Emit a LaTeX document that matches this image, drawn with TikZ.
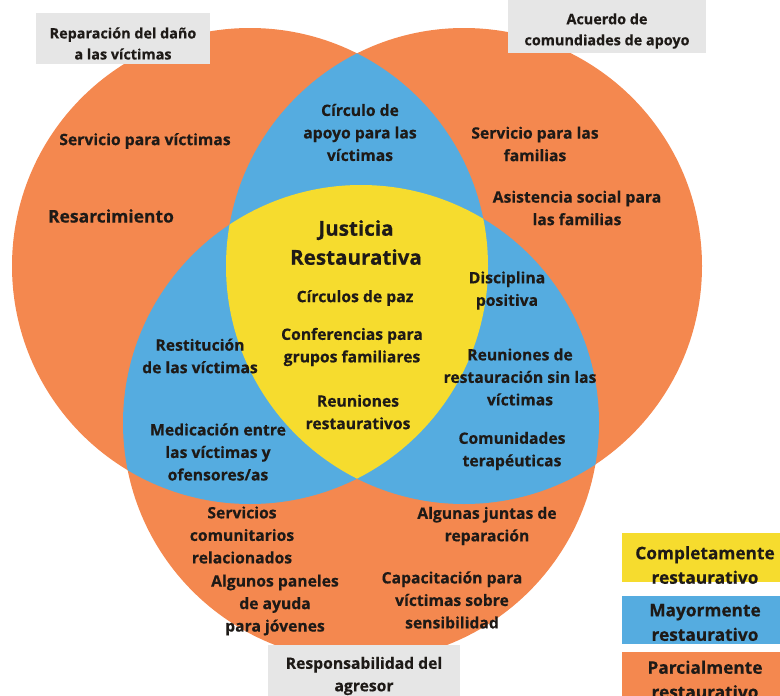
\documentclass[tikz,border=0pt]{standalone}
\usepackage{fontspec}
\setmainfont{Open Sans}[BoldFeatures={FakeBold=0.4}]
\definecolor{orng}{HTML}{F4884F}
\definecolor{blu}{HTML}{55ACE0}
\definecolor{yel}{HTML}{F6DC2E}
\definecolor{gry}{HTML}{E6E6E6}
\definecolor{ink}{HTML}{1E1A17}
\begin{document}
\begin{tikzpicture}[x=1pt,y=-1pt,
  lbl/.style={align=center, font=\fontsize{15.7}{22.5}\selectfont\bfseries, text=ink, inner sep=0pt},
  big/.style={align=center, font=\fontsize{20.6}{29}\selectfont\bfseries, text=ink, inner sep=0pt},
  boxlbl/.style={align=center, font=\fontsize{14.4}{21}\selectfont\bfseries, text=ink, inner sep=0pt},
  leglbl/.style={align=center, font=\fontsize{17.3}{24.5}\selectfont\bfseries, text=ink, inner sep=0pt},
  rr/.style={radius=238pt}]
\useasboundingbox (0,0) rectangle (780,696);
\coordinate (cL) at (250,266);
\coordinate (cR) at (464,266);
\coordinate (cB) at (361,423);
% orange circles
\fill[orng] (cL) circle[rr];
\fill[orng] (cR) circle[rr];
\fill[orng] (cB) circle[rr];
% blue pairwise intersections
\begin{scope}\clip (cL) circle[rr]; \fill[blu] (cR) circle[rr]; \end{scope}
\begin{scope}\clip (cL) circle[rr]; \fill[blu] (cB) circle[rr]; \end{scope}
\begin{scope}\clip (cR) circle[rr]; \fill[blu] (cB) circle[rr]; \end{scope}
% yellow triple intersection
\begin{scope}\clip (cL) circle[rr]; \clip (cR) circle[rr]; \fill[yel] (cB) circle[rr]; \end{scope}
% gray boxes
\fill[gry] (36,13) rectangle (210,64);
\fill[gry] (508,0) rectangle (706,53);
\fill[gry] (268,645) rectangle (460,696);
% legend boxes
\fill[yel] (622,533) rectangle (780,582);
\fill[blu] (622,596) rectangle (780,644);
\fill[orng] (622,652) rectangle (780,696);
% labels
\node[boxlbl] (b1) at (123,43.5) {Reparación del daño\\a las víctimas};
\node[boxlbl] (b2) at (607,31) {Acuerdo de\\comundiades de apoyo};
\node[lbl] (b3) at (364,676) {Responsabilidad del\\agresor};
\node[lbl] (s1) at (145,141) {Servicio para víctimas};
\node[lbl, font=\fontsize{17.5}{22.5}\selectfont\bfseries] (s2) at (111,216) {Resarcimiento};
\node[lbl] (s3) at (360,132.5) {Círculo de\\apoyo para las\\víctimas};
\node[lbl] (s4) at (535,144) {Servicio para las\\familias};
\node[lbl] (s5) at (577,208) {Asistencia social para\\las familias};
\node[big] (jr) at (356,242.5) {Justicia\\Restaurativa};
\node[lbl] (s6) at (355,298) {Círculos de paz};
\node[lbl] (s7) at (352,347) {Conferencias para\\grupos familiares};
\node[lbl] (s8) at (358,412) {Reuniones\\restaurativos};
\node[lbl] (s9) at (507,290.5) {Disciplina\\positiva};
\node[lbl] (s10) at (520,377) {Reuniones de\\restauración sin las\\víctimas};
\node[lbl] (s11) at (512,451) {Comunidades\\terapéuticas};
\node[lbl] (s12) at (200,356) {Restitución\\de las víctimas};
\node[lbl] (s13) at (218,452) {Medicación entre\\las víctimas y\\ofensores/as};
\node[lbl] (s14) at (242,535) {Servicios\\comunitarios\\relacionados};
\node[lbl] (s15) at (275,605) {Algunos paneles\\de ayuda\\para jóvenes};
\node[lbl] (s16) at (487,526) {Algunas juntas de\\reparación};
\node[lbl] (s17) at (452,600) {Capacitación para\\víctimas sobre\\sensibilidad};
\node[leglbl] (g1) at (705,565) {Completamente\\restaurativo};
\node[leglbl] (g2) at (705,622.5) {Mayormente\\restaurativo};
\node[leglbl] (g3) at (705,679.5) {Parcialmente\\restaurativo};
\end{tikzpicture}
\end{document}
